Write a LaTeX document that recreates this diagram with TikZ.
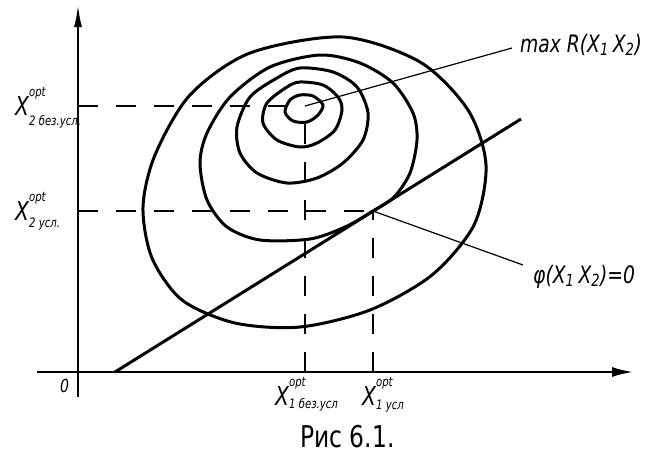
\documentclass[tikz,border=0pt]{standalone}
\usepackage{fontspec}
\setmainfont{DejaVu Sans}[FakeStretch=0.78]
\usetikzlibrary{arrows.meta}
\newcommand\xopt[2]{X\rlap{\raisebox{19pt}{\fontsize{13}{13}\selectfont opt}}\raisebox{-#1}{\fontsize{13}{13}\selectfont #2}}
\tikzset{
  level/.style={line width=3pt, line join=round},
  axisline/.style={line width=2pt},
  guide/.style={line width=1.6pt, dash pattern=on 20pt off 18pt},
  leader/.style={line width=1.2pt},
  lab/.style={inner sep=0pt, anchor=base west, font=\itshape\fontsize{26}{28}\selectfont},
  formula/.style={lab, font=\itshape\fontsize{24}{26}\selectfont},
}
\begin{document}
\begin{tikzpicture}[x=1pt, y=-1pt]
  \useasboundingbox (0,0) rectangle (655,466);
  \coordinate (ybot) at (78,397);  \coordinate (ytop) at (78,5);
  \coordinate (xbeg) at (37,372);  \coordinate (xend) at (633,372);
  \coordinate (Pmax) at (305,106); \coordinate (Pcond) at (373,211);
  \coordinate (Pmaxx) at (305,372); \coordinate (Pmaxy) at (78,106);
  \coordinate (Pcondx) at (373,372); \coordinate (Pcondy) at (78,211);
  \coordinate (la) at (115,372);   \coordinate (lb) at (521,119);
  \coordinate (maxend) at (512,48); \coordinate (phiend) at (523,265);

  \draw[axisline, -{Latex[length=22pt,width=8pt]}] (ybot) -- (ytop);
  \draw[axisline, -{Latex[length=21pt,width=10pt]}] (xbeg) -- (xend);

  \draw[guide] (Pmaxy) -- (Pmax);  \draw[guide] (Pmaxx) -- (Pmax);
  \draw[guide] (Pcondy) -- (Pcond); \draw[guide] (Pcondx) -- (Pcond);

  \draw[level] plot[smooth cycle] coordinates {(343,37) (420,62) (468,110) (486,165)
    (474,225) (432,275) (370,310) (300,327) (235,323) (182,300) (152,258) (143,207)
    (155,155) (190,95) (250,53)};
  \draw[level] plot[smooth cycle] coordinates {(320,55) (360,63) (393,83) (413,113)
    (417,140) (410,173) (394,197) (373,211) (345,227) (310,239) (260,240) (227,227)
    (207,200) (200,163) (207,133) (230,97) (270,67)};
  \draw[level] plot[smooth cycle] coordinates {(300,68) (333,72) (357,87) (368,113)
    (363,140) (343,163) (317,178) (287,183) (257,173) (240,153) (237,127) (250,97)
    (277,78)};
  \draw[level] plot[smooth cycle] coordinates {(300,82) (323,85) (338,97) (342,110)
    (335,130) (317,143) (300,147) (277,140) (263,123) (267,103) (287,87)};
  \draw[level] plot[smooth cycle] coordinates {(300,95) (313,96) (323,105) (318,115)
    (307,122) (293,121) (285,112) (290,100)};

  \draw[level] (la) -- (lb);
  \draw[leader] (Pmax) -- (maxend);
  \draw[leader] (Pcond) -- (phiend);

  \node[lab] (x2free) at (15,115) {\xopt{10pt}{2 без.усл.}};
  \node[lab] (x2cond) at (15,220) {\xopt{7pt}{2 усл.}};
  \node[lab] (x1free) at (275,405) {\xopt{3pt}{1 без.усл}};
  \node[lab] (x1cond) at (362,405) {\xopt{4pt}{1 усл}};
  \node[formula] (maxR) at (520,52) {max R(X\textsubscript{1}\,X\textsubscript{2})};
  \node[formula] (phi) at (533,283) {φ(X\textsubscript{1}\,X\textsubscript{2})=0};
  \node[lab, font=\itshape\fontsize{18}{19}\selectfont] (orig) at (60,392) {0};
  \node[lab, font=\fontsize{30}{32}\selectfont] (caption) at (300,447) {Рис 6.1.};
\end{tikzpicture}
\end{document}
